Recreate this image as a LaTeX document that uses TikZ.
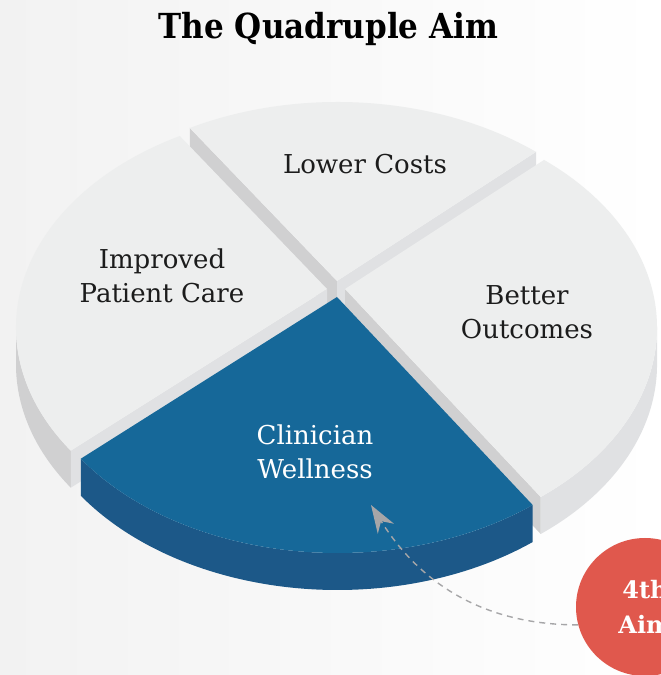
\documentclass[tikz,border=0pt]{standalone}
\usepackage{fontspec}
\setmainfont{DejaVu Serif}
\newfontfamily\condfont{DejaVu Serif Condensed}
\usepackage{xcolor}
\usepackage{tikz}
\usetikzlibrary{arrows.meta}

\definecolor{bgshade}{RGB}{242,242,242}
\definecolor{slicetop}{RGB}{237,238,238}
\definecolor{sidedark}{RGB}{208,208,209}
\definecolor{sidelight}{RGB}{224,225,227}
\definecolor{welltop}{RGB}{22,104,153}
\definecolor{wellside}{RGB}{28,88,136}
\definecolor{aimred}{RGB}{224,88,77}
\definecolor{arrowgray}{RGB}{166,166,168}
\definecolor{labeltext}{RGB}{28,28,28}

\tikzset{
  rim/.style={x radius=311.5,y radius=217.5},
  head/.style={anchor=base,font=\condfont\bfseries\fontsize{34.5}{40}\selectfont},
  slice label/.style={text=labeltext,align=center,font=\fontsize{26}{34}\selectfont},
  aim badge/.style={circle,fill=aimred,minimum size=138pt,inner sep=0pt,text=white,
    align=center,font=\bfseries\fontsize{24}{35}\selectfont},
  aim arrow/.style={draw=arrowgray,line width=1.4pt,dash pattern=on 6pt off 5pt,
    -{Stealth[length=28pt,width=19pt,inset=9pt,fill=arrowgray]}}
}

\begin{document}
\begin{tikzpicture}[x=1pt,y=1pt]
\useasboundingbox (0,0) rectangle (661,675);
\clip (0,0) rectangle (661,675);
\shade[left color=bgshade,right color=white] (0,0) rectangle (661,675);

% lower costs
\fill[sidedark] (337,394) -- (189.8,547) -- (189.8,510) -- (337,357) -- cycle;
\fill[sidelight] (337,394) -- (536,523.1) -- (536,486.1) -- (337,357) -- cycle;
\fill[slicetop] (337,394) -- (536,523.1) arc[rim,start angle=50.4,end angle=118.3] -- cycle;

% improved patient care
\fill[sidedark] (16,347.5) arc[rim,start angle=180,end angle=214.5] -- ++(0,-37)
  arc[rim,start angle=214.5,end angle=180] -- cycle;
\fill[sidelight] (327,386) -- (70.8,224.3) -- ++(0,-37) -- (327,349) -- cycle;
\fill[slicetop] (327,386) -- (179.8,539) arc[rim,start angle=118.3,end angle=214.5] -- cycle;

% better outcomes
\fill[sidelight] (540.7,178) arc[rim,start angle=308.8,end angle=360] -- ++(0,-37)
  arc[rim,start angle=360,end angle=308.8] -- cycle;
\fill[sidedark] (345,386) -- (540.7,178) -- ++(0,-37) -- (345,349) -- cycle;
\fill[slicetop] (345,386) -- (540.7,178) arc[rim,start angle=308.8,end angle=410.4] -- cycle;

% clinician wellness
\fill[wellside] (80.8,216.3) arc[rim,start angle=214.5,end angle=308.8] -- ++(0,-37)
  arc[rim,start angle=308.8,end angle=214.5] -- cycle;
\fill[welltop] (337,378) -- (80.8,216.3) arc[rim,start angle=214.5,end angle=308.8] -- cycle;

\node[head] (title) at (328.5,636) {The Quadruple Aim};
\node[slice label] (lower) at (365,511) {Lower Costs};
\node[slice label] (improved) at (162,399) {Improved\\Patient Care};
\node[slice label] (better) at (527,363) {Better\\Outcomes};
\node[slice label,text=white] (wellness) at (315,223) {Clinician\\Wellness};

\node[aim badge] (aim) at (645,68) {4th\\Aim};
\coordinate (tip) at (371,170);
\draw[aim arrow] (aim.195) to[out=180,in=-58] (tip);
\end{tikzpicture}
\end{document}
